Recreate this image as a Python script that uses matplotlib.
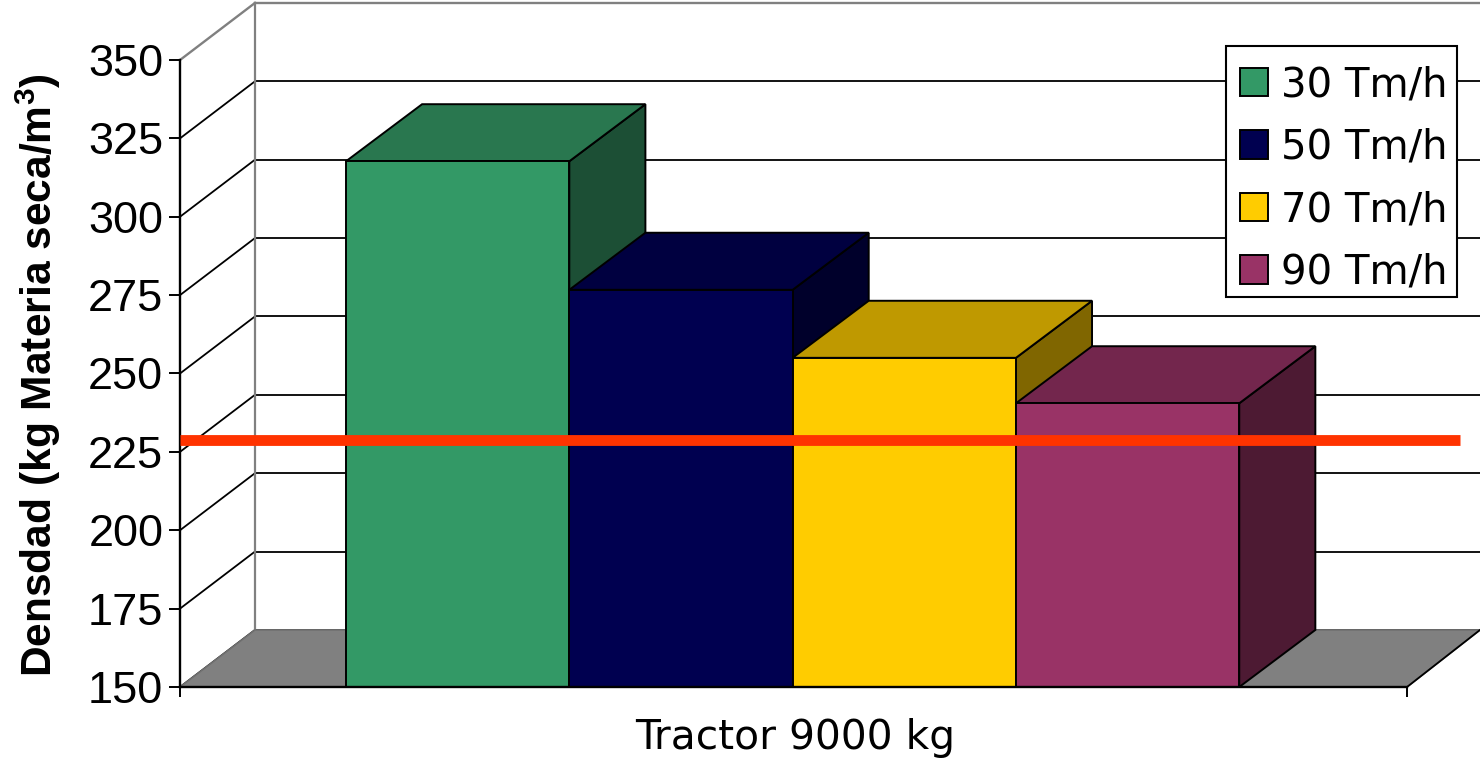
import matplotlib
matplotlib.use("Agg")
import matplotlib.pyplot as plt
from matplotlib.patches import Patch, Rectangle

# data
series = ["30 Tm/h", "50 Tm/h", "70 Tm/h", "90 Tm/h"]
densidad = [317.7, 276.7, 255, 240.5]
referencia = 228.8
y_ticks = [150, 175, 200, 225, 250, 275, 300, 325, 350]

front = ["#339966", "#000050", "#FFCC00", "#993366"]
top = ["#29774F", "#000040", "#BF9900", "#73264D"]
side = ["#1C4F35", "#00002B", "#806600", "#4D1A33"]

# layout of the fake 3d box, x in axes fraction, y in data units
depth_x = 0.0611
depth_y = 18.2
bar_depth_x = 0.062
bar_left = 0.1353
bar_w = 0.182
right_end = 1.0595

plt.rcParams["font.family"] = ["Liberation Sans", "DejaVu Sans"]
plt.rcParams["mathtext.default"] = "regular"

fig = plt.figure(figsize=(14.8, 7.65), dpi=100)
ax = fig.add_axes([180 / 1480, 1 - 687 / 765, 1227 / 1480, 627 / 765])
ax.set_xlim(0, 1)
ax.set_ylim(150, 350)

# back wall + grid
for v in y_ticks:
    col = "#808080" if v == 350 else "black"
    w = 1.7 if v == 350 else 1.3
    ax.plot([0, depth_x], [v, v + depth_y], color=col, lw=w, clip_on=False, zorder=1)
    ax.plot([depth_x, right_end], [v + depth_y, v + depth_y], color=col, lw=w, clip_on=False, zorder=1)
ax.plot([depth_x, depth_x], [150 + depth_y, 350 + depth_y], color="#808080", lw=1.6, clip_on=False, zorder=1)

# floor
ax.fill([0, depth_x, right_end, 1], [150, 150 + depth_y, 150 + depth_y, 150],
        facecolor="#808080", edgecolor="#707070", lw=1.2, clip_on=False, zorder=2)
ax.plot([1, right_end], [150, 150 + depth_y], color="black", lw=1.3, clip_on=False, zorder=2)

# bars
for i, val in enumerate(densidad):
    x0 = bar_left + i * bar_w
    x1 = x0 + bar_w
    ax.fill([x1, x1 + bar_depth_x, x1 + bar_depth_x, x1], [150, 150 + depth_y, val + depth_y, val],
            facecolor=side[i], edgecolor="black", lw=1.4, clip_on=False, zorder=3 + i)
    ax.fill([x0, x0 + bar_depth_x, x1 + bar_depth_x, x1], [val, val + depth_y, val + depth_y, val],
            facecolor=top[i], edgecolor="black", lw=1.4, clip_on=False, zorder=3 + i)
    ax.bar(x0, val - 150, bar_w, bottom=150, align="edge", color=front[i],
           edgecolor="black", lw=1.4, clip_on=False, zorder=3 + i)

# red reference line
ax.plot([0, 1.043], [referencia, referencia], color="#FF3300", lw=7.8,
        solid_capstyle="butt", clip_on=False, zorder=10)

for s in ["top", "right"]:
    ax.spines[s].set_visible(False)
for s in ["left", "bottom"]:
    ax.spines[s].set_linewidth(1.7)
    ax.spines[s].set_zorder(9)
ax.patch.set_visible(False)

ax.set_yticks(y_ticks)
ax.set_xticks([0, 1])
ax.set_xticklabels(["", ""])
ax.tick_params(axis="y", length=8, width=1.4, pad=4, labelsize=32.5)
ax.tick_params(axis="x", length=7.5, width=1.4)

ax.set_xlabel("Tractor 9000 kg", fontsize=29.3, family="DejaVu Sans")
ax.xaxis.set_label_coords(0.5016, -0.05)
ax.xaxis.label.set_verticalalignment("top")
ax.set_ylabel("Densdad (kg Materia seca/m$^{3}$)", fontsize=30.6, fontweight="bold")
ax.yaxis.set_label_coords(-0.0955, 0.497)

# legend box drawn apart so the rows can sit off centre like the original
ax.add_patch(Rectangle(((1226 - 180) / 1227, (687 - 297) / 627), 231 / 1227, 251 / 627,
                       transform=ax.transAxes, facecolor="white", edgecolor="black",
                       lw=1.5, clip_on=False, zorder=11))
handles = [Patch(facecolor=c, edgecolor="black", lw=1.4) for c in front]
leg = ax.legend(handles, series, loc="upper left", bbox_to_anchor=((1240 - 180) / 1227, 1 - 5 / 627),
                frameon=False, prop={"family": "DejaVu Sans", "size": 29},
                handlelength=0.7, handleheight=0.7, handletextpad=0.31,
                labelspacing=0.56, borderpad=0, borderaxespad=0)
leg.set_zorder(12)

fig.savefig("out.png", dpi=100)
